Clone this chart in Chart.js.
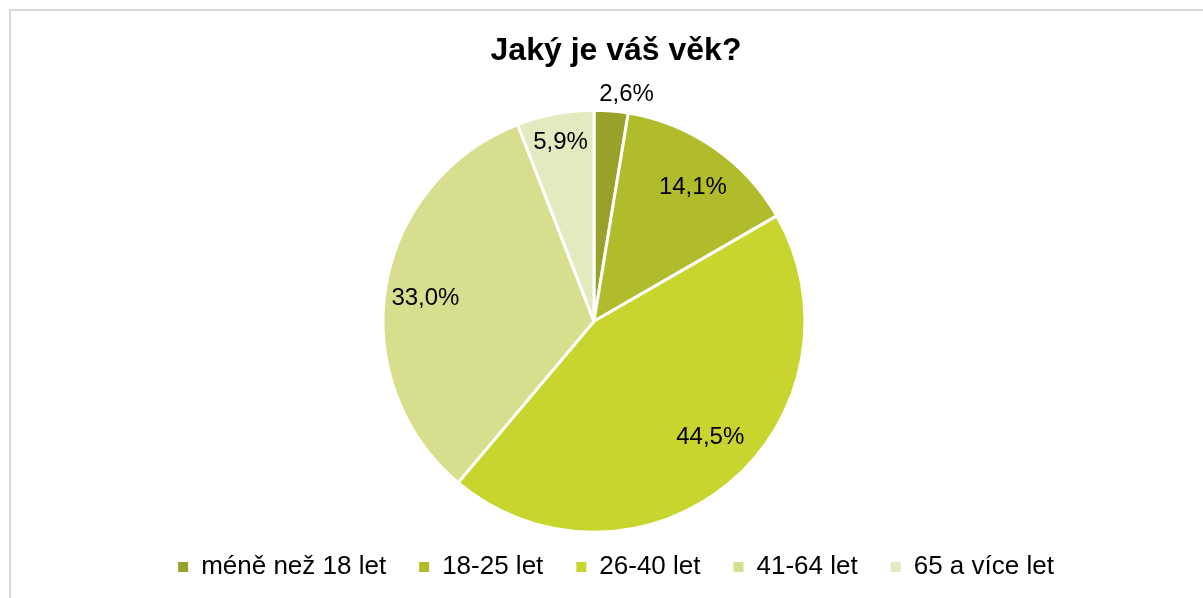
<!DOCTYPE html>
<html lang="cs">
<head>
    <meta charset="UTF-8">
    <title>Jaký je váš věk?</title>
    <script src="https://cdn.jsdelivr.net/npm/chart.js"></script>
    <style>
        html, body { margin: 0; padding: 0; overflow: hidden; background: #fff; }
        #frame { position: absolute; left: 9px; top: 9px; width: 1240px; height: 640px; border: 2px solid #d9d9d9; }
        #wrap { position: absolute; left: 0; top: 0; width: 1232px; height: 598px; }
    </style>
</head>
<body>
    <div id="frame"></div>
    <div id="wrap"><canvas id="chart_age"></canvas></div>

    <script>
        // data
        const categories = ['méně než 18 let', '18-25 let', '26-40 let', '41-64 let', '65 a více let'];
        const shares = [2.6, 14.1, 44.5, 33.0, 5.9];
        const colors = ['#98A12A', '#B0BC2B', '#C8D52F', '#D7DF8E', '#E4EABF'];

        // label distance from centre (fraction of radius) + small pixel nudges
        const labelPos = [1.08, 0.79, 0.77, 0.81, 0.86];
        const labelNudge = [[14, 0], [4, 3], [12, -8], [0, 5], [0, 0]];

        // pie sits a bit left of the title/legend centre
        const shiftPlugin = {
            id: 'shift',
            afterLayout(chart) {
                chart.chartArea.left -= 22;
                chart.chartArea.right -= 22;
            }
        };

        const labelPlugin = {
            id: 'sliceLabels',
            afterDatasetsDraw(chart) {
                const ctx = chart.ctx;
                const arcs = chart.getDatasetMeta(0).data;
                ctx.save();
                ctx.font = '24px "Liberation Sans", Arial, sans-serif';
                ctx.fillStyle = '#000';
                ctx.textAlign = 'center';
                ctx.textBaseline = 'middle';
                arcs.forEach((arc, i) => {
                    const p = arc.getProps(['x', 'y', 'startAngle', 'endAngle', 'outerRadius'], true);
                    const mid = (p.startAngle + p.endAngle) / 2;
                    const r = p.outerRadius * labelPos[i];
                    const txt = shares[i].toFixed(1).replace('.', ',') + '%';
                    ctx.fillText(txt, p.x + Math.cos(mid) * r + labelNudge[i][0], p.y + Math.sin(mid) * r + labelNudge[i][1]);
                });
                ctx.restore();
            }
        };

        const ctx = document.getElementById('chart_age').getContext('2d');
        new Chart(ctx, {
            type: 'pie',
            data: {
                labels: categories,
                datasets: [{
                    data: shares,
                    backgroundColor: colors,
                    borderColor: '#ffffff',
                    borderWidth: 3,
                    radius: 211,
                    clip: false
                }]
            },
            options: {
                responsive: true,
                maintainAspectRatio: false,
                animation: false,
                layout: { padding: { top: 0, bottom: 8, left: 0, right: 0 } },
                plugins: {
                    title: {
                        display: true,
                        text: 'Jaký je váš věk?',
                        color: '#000',
                        font: { family: '"Liberation Sans", Arial, sans-serif', size: 32, weight: 'bold' },
                        padding: { top: 32, bottom: 51 }
                    },
                    legend: {
                        position: 'bottom',
                        labels: {
                            color: '#000',
                            font: { family: '"Liberation Sans", Arial, sans-serif', size: 26 },
                            boxWidth: 10,
                            boxHeight: 10,
                            padding: 33,
                            generateLabels(chart) {
                                const items = Chart.overrides.pie.plugins.legend.labels.generateLabels(chart);
                                return items.map(it => Object.assign(it, { lineWidth: 0, strokeStyle: 'transparent' }));
                            }
                        }
                    },
                    tooltip: { enabled: false }
                }
            },
            plugins: [shiftPlugin, labelPlugin]
        });
    </script>
</body>
</html>
